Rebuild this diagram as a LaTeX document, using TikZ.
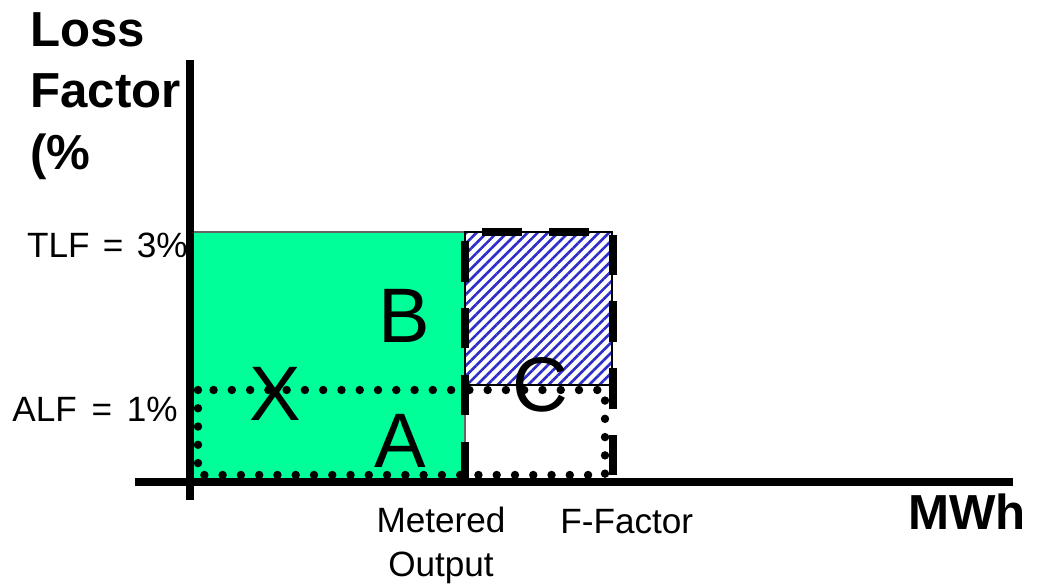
\documentclass[tikz,border=0pt]{standalone}
\usepackage{fontspec}
\setmainfont{Liberation Sans}
\usepackage{xcolor}
\usepackage{tikz}
\usetikzlibrary{patterns.meta, positioning}
\definecolor{areagreen}{RGB}{0,255,153}
\definecolor{hatchblue}{RGB}{45,45,200}
\definecolor{edgegray}{RGB}{100,100,100}
\tikzset{
  axis/.style={line width=4.2pt, black},
  greenbox/.style={fill=areagreen, draw=edgegray, line width=0.6pt},
  hatchbox/.style={pattern={Lines[angle=45, distance=4.1pt, line width=1.5pt]},
    pattern color=hatchblue, draw=black, line width=1pt},
  dotline/.style={line width=4.8pt, line cap=round, dash pattern=on 0pt off 10.4pt},
  dashline/.style={line width=4pt, dash pattern=on 23pt off 15pt},
  biglabel/.style={font=\fontsize{44}{50}\selectfont, inner sep=0pt},
  axislabel/.style={font=\fontsize{28}{35}\selectfont\bfseries, inner sep=0pt},
  ticklabel/.style={font=\fontsize{20}{25}\selectfont, inner sep=0pt},
}

\begin{document}
\begin{tikzpicture}[x=0.02cm, y=-0.02cm]
  \useasboundingbox (0,0) rectangle (1041,587);
  % areas
  \draw[greenbox] (191,232) rectangle (465,482);
  \draw[hatchbox] (465,232) rectangle (612,385);
  \draw[dotline] (198,390) rectangle (605,475);
  \draw[dashline] (465,482) -- (465,232) -- (613,232) -- (613,482);
  % axes
  \coordinate (xstart) at (135,482);
  \coordinate (xend) at (1013,482);
  \coordinate (ystart) at (190,500);
  \coordinate (yend) at (190,60);
  \draw[axis] (xstart) -- (xend);
  \draw[axis] (ystart) -- (yend);
  % labels
  \node[biglabel, anchor=base] (areaB) at (404,343) {B};
  \node[biglabel, anchor=base] (areaX) at (275,420) {X};
  \node[biglabel, anchor=base] (areaA) at (400,467) {A};
  \node[biglabel, anchor=base] (areaC) at (540,411) {C};
  \node[axislabel, anchor=north west, align=left] (lossfactor) at (30,12) {Loss\\Factor\\(\%};
  \node[ticklabel, anchor=base east] (tlf) at (188,258) {TLF\hspace{0.38em}=\hspace{0.38em}3\%};
  \node[ticklabel, anchor=base east] (alf) at (178,421) {ALF\hspace{0.42em}=\hspace{0.42em}1\%};
  \node[ticklabel, anchor=north, align=center] (metered) at (441,507) {Metered\\Output};
  \node[ticklabel, anchor=base west] (ffactor) at (560,533) {F-Factor};
  \node[axislabel, anchor=base west] (mwh) at (908,529) {MWh};
\end{tikzpicture}
\end{document}
